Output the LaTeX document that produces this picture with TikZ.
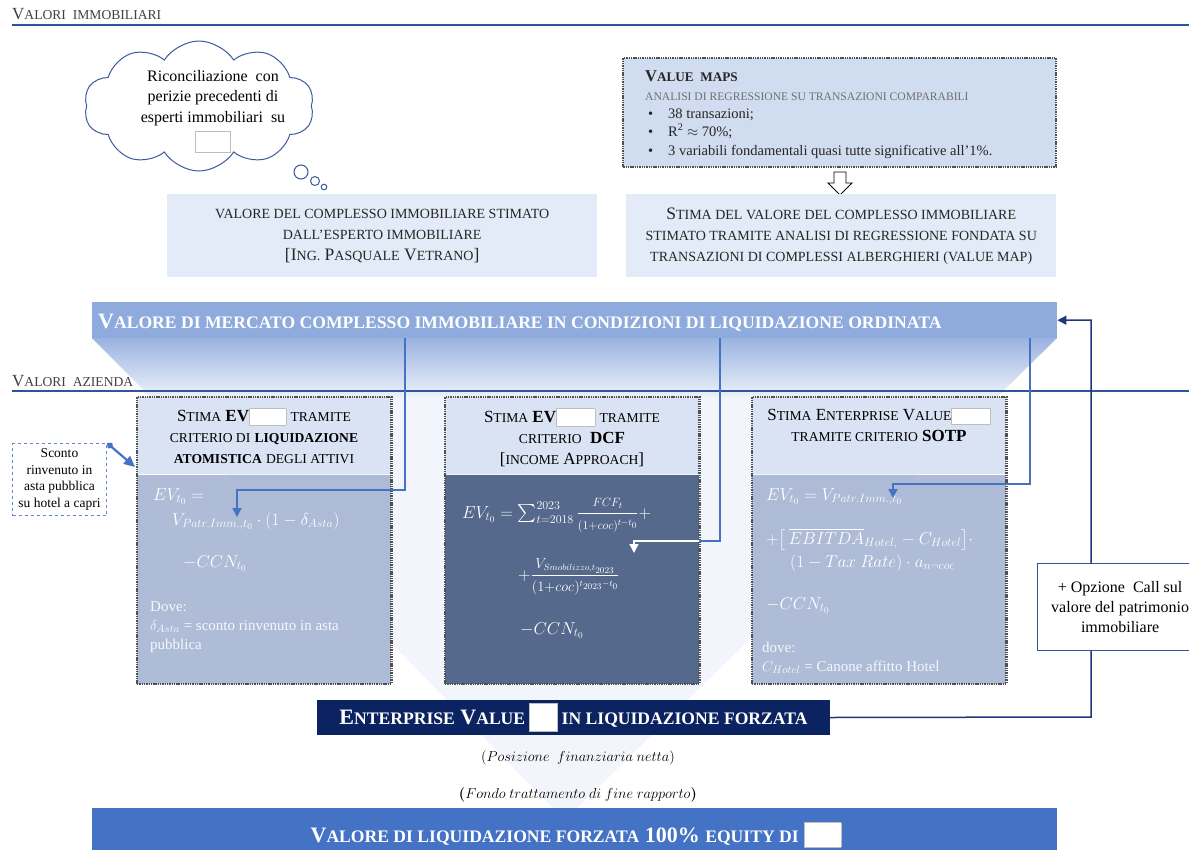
\documentclass[tikz,border=0pt]{standalone}
\usepackage{fontspec}
\setmainfont{Liberation Serif}
\usepackage{amsmath}
\usepackage{amssymb}
\usepackage{xcolor}
\usetikzlibrary{fit,shapes.symbols,arrows.meta}
\definecolor{hdrgray}{RGB}{64,64,64}
\definecolor{hdrblue}{RGB}{47,85,151}
\definecolor{cloudblue}{RGB}{60,90,160}
\definecolor{mapfill}{RGB}{208,220,239}
\definecolor{lightfill}{RGB}{226,235,247}
\definecolor{barblue}{RGB}{143,170,220}
\definecolor{headfill}{RGB}{218,227,243}
\definecolor{bodyfill}{RGB}{166,181,211}
\definecolor{dcffill}{RGB}{85,105,140}
\definecolor{navy}{RGB}{12,35,97}
\definecolor{equityblue}{RGB}{68,114,196}
\definecolor{feedblue}{RGB}{68,114,196}
\definecolor{loopnavy}{RGB}{32,56,120}
\definecolor{funnelfill}{RGB}{242,245,251}
\definecolor{phgray}{RGB}{190,190,190}
\definecolor{dotgray}{RGB}{80,80,80}
\definecolor{inktxt}{RGB}{38,38,38}
\makeatletter
\newcommand{\smcp}[1]{{\fontsize{\fpeval{0.8*\f@size}}{\f@baselineskip}\selectfont\MakeUppercase{#1}}}
\makeatother
\newcommand{\blank}[3][3]{\raisebox{-#1pt}{\setlength{\fboxsep}{0pt}\setlength{\fboxrule}{0.6pt}\fcolorbox{phgray}{white}{\rule{#2pt}{0pt}\rule{0pt}{#3pt}}}}
\tikzset{
  hdrtext/.style={anchor=base west, inner sep=0, text=hdrgray, font=\fontsize{17}{19}\selectfont},
  hdrline/.style={draw=hdrblue, line width=1.2},
  lightbox/.style={rectangle, fill=lightfill, anchor=north west, align=center, text=inktxt, font=\fontsize{17.5}{21}\selectfont},
  dotbox/.style={draw=dotgray, line width=2.4, dash pattern=on 1.4pt off 0.9pt},
  colhead/.style={rectangle, fill=headfill, anchor=north west, minimum width=254, minimum height=77, inner sep=0},
  colbody/.style={rectangle, fill=bodyfill, fill opacity=0.9, anchor=north, minimum width=254, minimum height=209, inner sep=0},
  headtxt/.style={anchor=north, align=center, text=black, inner sep=0, font=\fontsize{17}{21}\selectfont},
  mathtxt/.style={anchor=base west, inner sep=0, text=white, font=\fontsize{17.5}{19}\selectfont},
  notetxt/.style={anchor=base west, inner sep=0, text=white!90!bodyfill, font=\fontsize{15}{19}\selectfont},
  bullettxt/.style={anchor=base west, inner sep=0, text=inktxt, font=\fontsize{14.5}{17}\selectfont},
  feed/.style={draw=feedblue, line width=1.5},
  feedwhite/.style={draw=white, line width=1.5},
  feedtip/.style={-{Triangle[width=9,length=9]}},
  returnline/.style={draw=loopnavy, line width=1.5},
  scontoarr/.style={draw=feedblue, line width=2.2, {Diamond[width=7,length=8]}-{Triangle[width=10,length=11]}},
  thought/.style={draw=cloudblue, line width=1, fill=white}
}
\begin{document}
\begin{tikzpicture}[x=1pt, y=-1pt]
    \useasboundingbox (0,0) rectangle (1189,849);
    \fill[white] (0,0) rectangle (1189,849);

    % funnel behind the company part
    \fill[funnelfill] (92,338) -- (1057,338) -- (565,820) -- cycle;
    \shade[top color=barblue!90, bottom color=funnelfill!70!lightfill] (92,338) -- (1057,338) -- (997,397) -- (151,397) -- cycle;

    \node[hdrtext] (hdrimm) at (12,19) {V\smcp{alori\ \ immobiliari}};
    \draw[hdrline] (hdrimm.base west |- 0,25) -- (1189,25);

    \node[cloud, cloud puffs=10, cloud puff arc=115, aspect=1.8, draw=cloudblue, line width=1, fill=white, minimum width=230, minimum height=130, inner sep=0] (cloudnote) at (199,106) {};
    \node[anchor=north, align=center, inner sep=0, font=\fontsize{16}{20.5}\selectfont] (cloudtext) at (213,70) {Riconciliazione\ \ con\\perizie precedenti di\\esperti immobiliari\ \ su\\[3pt]\blank[6]{34}{20}};
    \draw[thought] (301,172) circle (7);
    \draw[thought] (315,181) circle (4.5);
    \draw[thought] (324,187) circle (2.8);

    \node[rectangle, fill=mapfill, dotbox, anchor=north west, minimum width=433, minimum height=109, inner sep=0] (valuemaps) at (622,57) {};
    \node[anchor=base west, inner sep=0, text=inktxt, font=\fontsize{16.5}{18}\selectfont\bfseries] (vmtitle) at (645,81) {V\smcp{alue\ \ maps}};
    \node[anchor=base west, inner sep=0, text=hdrgray!75, font=\fontsize{14.5}{16}\selectfont] (vmsub) at (645,100) {\smcp{analisi di regressione su transazioni comparabili}};
    \node[bullettxt] (vmdot1) at (648,118) {\textbullet};
    \node[bullettxt] (vmdot2) at (648,136) {\textbullet};
    \node[bullettxt] (vmdot3) at (648,155) {\textbullet};
    \node[bullettxt] (vmb1) at (668,118) {38 transazioni;};
    \node[bullettxt] (vmb2) at (668,136) {R\textsuperscript{2} $\approx$ 70\%;};
    \node[bullettxt] (vmb3) at (668,155) {3 variabili fondamentali quasi tutte significative all’1\%.};

    \draw[line width=0.8, fill=white] (834,172) -- (846,172) -- (846,183) -- (852,183) -- (840,195) -- (828,183) -- (834,183) -- cycle;

    \node[lightbox, minimum width=430, minimum height=83] (valperito) at (167,194) {\smcp{valore del complesso immobiliare stimato}\\\smcp{dall’esperto immobiliare}\\{}[I\smcp{ng.} P\smcp{asquale} V\smcp{etrano}]};
    \node[lightbox, minimum width=430, minimum height=83] (valmap) at (626,194) {S\smcp{tima del valore del complesso immobiliare}\\\smcp{stimato tramite analisi di regressione fondata su}\\\smcp{transazioni di complessi alberghieri (value map)}};

    \node[rectangle, fill=barblue, anchor=north west, minimum width=965, minimum height=36, inner sep=0] (mktbar) at (92,302) {};
    \node[anchor=base west, inner sep=0, text=white, font=\fontsize{22}{24}\selectfont\bfseries] (mkttext) at (98,328) {V\smcp{alore di mercato complesso immobiliare in condizioni di liquidazione ordinata}};

    \node[hdrtext] (hdraz) at (12,386) {V\smcp{alori\ \ azienda}};
    \draw[hdrline] (hdraz.base west |- 0,391) -- (1189,391);

    % three valuation columns
    \node[colhead] (atomhead) at (137,397) {};
    \node[colbody] (atombody) at (atomhead.south) {};
    \node[fit=(atomhead)(atombody), inner sep=0, dotbox] (atombox) {};
    \node[headtxt] (atomtitle) at (264,408) {S\smcp{tima} \textbf{EV}\blank{36}{16}\ \smcp{tramite}\\\smcp{criterio di} \textbf{\smcp{liquidazione}}\\\textbf{\smcp{atomistica}} \smcp{degli attivi}};

    \node[colhead] (dcfhead) at (445,397) {};
    \node[colbody, fill=dcffill, fill opacity=1] (dcfbody) at (dcfhead.south) {};
    \node[fit=(dcfhead)(dcfbody), inner sep=0, dotbox] (dcfbox) {};
    \node[headtxt] (dcftitle) at (572,408) {S\smcp{tima} \textbf{EV}\blank{38}{17}\ \smcp{tramite}\\\smcp{criterio}\ \ \textbf{DCF}\\{}[\smcp{income} A\smcp{pproach}]};

    \node[colhead] (sotphead) at (752,397) {};
    \node[colbody] (sotpbody) at (sotphead.south) {};
    \node[fit=(sotphead)(sotpbody), inner sep=0, dotbox] (sotpbox) {};
    \node[headtxt] (sotptitle) at (879,408) {S\smcp{tima} E\smcp{nterprise} V\smcp{alue}\blank{38}{15}\\\smcp{tramite criterio} \textbf{SOTP}};

    \node[mathtxt] (atomeq1) at (153,500) {$EV_{t_0} =$};
    \node[mathtxt] (atomeq2) at (172,525) {$V_{Patr.Imm.,t_0}\cdot(1-\delta_{Asta})$};
    \node[mathtxt] (atomeq3) at (183,567) {$-CCN_{t_0}$};
    \node[notetxt] (atomdove) at (150,611) {Dove:};
    \node[notetxt] (atomdelta) at (150,630) {$\delta_{Asta}$ = sconto rinvenuto in asta};
    \node[notetxt] (atompubb) at (150,649) {pubblica};

    \node[mathtxt, font=\fontsize{18}{20}\selectfont] (dcfeq1) at (462,518) {$EV_{t_0} = \sum_{t=2018}^{2023}\dfrac{\scriptstyle FCF_t}{\scriptstyle (1+coc)^{t-t_0}} +$};
    \node[mathtxt, font=\fontsize{19}{22}\selectfont] (dcfeq2) at (518,580) {$+\dfrac{\scriptstyle V_{Smobilizzo,t_{2023}}}{\scriptstyle (1+coc)^{t_{2023}-t_0}}$};
    \node[mathtxt] (dcfeq3) at (520,634) {$-CCN_{t_0}$};

    \node[mathtxt] (sotpeq1) at (766,500) {$EV_{t_0} = V_{Patr.Imm.,t_0}$};
    \node[mathtxt, font=\fontsize{17}{19}\selectfont] (sotpeq2) at (766,544) {$+\bigl[\,\overline{EBITDA}_{Hotel,} - C_{Hotel}\bigr]\cdot$};
    \node[mathtxt, font=\fontsize{17}{19}\selectfont] (sotpeq3) at (790,567) {$(1-Tax\ Rate)\cdot a_{n\neg coc}$};
    \node[mathtxt] (sotpeq4) at (766,609) {$-CCN_{t_0}$};
    \node[notetxt] (sotpdove) at (762,652) {dove:};
    \node[notetxt] (sotpchotel) at (762,671) {$C_{Hotel}$ = Canone affitto Hotel};

    \node[rectangle, draw=feedblue!85, dashed, line width=1, fill=white, anchor=north west, minimum width=94, minimum height=72, align=center, inner sep=1, font=\fontsize{13.5}{16.5}\selectfont] (sconto) at (12,443) {Sconto\\rinvenuto in\\asta pubblica\\su hotel a capri};
    \coordinate (scontotip) at (135,467);
    \draw[scontoarr] (sconto.north east) -- (scontotip);

    \coordinate (bendA) at (405,490);
    \coordinate (tipA) at (237,517);
    \draw[feed, feedtip] (bendA |- mktbar.south) -- (bendA) -| (tipA);
    \coordinate (bendB) at (720,541);
    \coordinate (tipB) at (634,553);
    \draw[feed] (bendB |- mktbar.south) -- (bendB) -- (bendB -| dcfbody.east);
    \draw[feedwhite, feedtip] (bendB -| dcfbody.east) -| (tipB);
    \coordinate (bendC) at (1030,484);
    \coordinate (tipC) at (893,498);
    \draw[feed, feedtip] (bendC |- mktbar.south) -- (bendC) -| (tipC);

    \node[rectangle, fill=navy, minimum width=513, minimum height=35, inner sep=0, text=white, font=\fontsize{22}{24}\selectfont\bfseries] (evbox) at (573.5,717.5) {E\smcp{nterprise} V\smcp{alue}\,\blank[7]{28}{27}\,\smcp{in liquidazione forzata}};

    \coordinate (loopx) at (1091,717);
    \draw[returnline, feedtip] (evbox.east) -- (loopx) -- (loopx |- mktbar.east) -- (mktbar.east);
    \node[rectangle, draw=hdrblue, line width=1.2, fill=white, anchor=north west, minimum width=165, minimum height=87, align=center, inner sep=0, font=\fontsize{16}{20}\selectfont] (callopt) at (1037,563) {+ Opzione\ \ Call sul\\valore del patrimonio\\immobiliare};

    \node[inner sep=0, font=\fontsize{15}{17}\selectfont] (pfn) at (578,758) {$(Posizione\ \ finanziaria\ netta)$};
    \node[inner sep=0, font=\fontsize{15}{17}\selectfont] (tfr) at (578,795) {$\boldsymbol{(}Fondo\ trattamento\ di\ fine\ rapporto\boldsymbol{)}$};

    \node[rectangle, fill=equityblue, anchor=north west, minimum width=965, minimum height=45, inner sep=0] (equitybar) at (92,808) {};
    \node[anchor=base, inner sep=0, text=white, font=\fontsize{22}{24}\selectfont\bfseries] (equitytext) at (576,842) {V\smcp{alore di liquidazione forzata} 100\% \smcp{equity di} \blank[5]{36}{24}};
\end{tikzpicture}
\end{document}
